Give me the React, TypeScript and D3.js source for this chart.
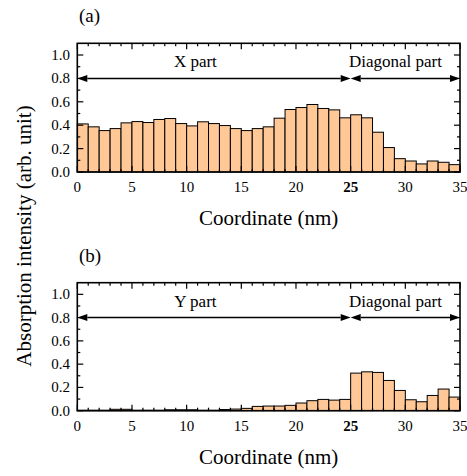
import React from "react";
import * as d3 from "d3";

const coordinates = d3.range(0, 35);
const topValues = [0.411,0.386,0.354,0.371,0.42,0.431,0.423,0.449,0.457,0.414,0.394,0.429,0.414,0.397,0.371,0.354,0.371,0.386,0.46,0.534,0.551,0.577,0.543,0.531,0.463,0.489,0.463,0.34,0.209,0.114,0.094,0.069,0.094,0.083,0.063];
const bottomValues = [0.004,0.004,0.004,0.012,0.012,0.004,0.004,0.004,0.008,0.008,0.008,0.004,0.004,0.01,0.014,0.02,0.037,0.04,0.04,0.046,0.066,0.086,0.097,0.091,0.097,0.323,0.334,0.329,0.26,0.174,0.094,0.077,0.131,0.186,0.117];
const xTickLabels = [0, 5, 10, 15, 20, 25, 30, 35];
const yTickLabels = [0, 0.2, 0.4, 0.6, 0.8, 1.0];
const regionStarts = [0, 25];
const regionEnds = [25, 35];

const FONT = "Tinos, 'Liberation Serif', 'DejaVu Serif', 'Noto Serif', 'Times New Roman', Times, serif";
const FILL = "#FFC896";

const xScale = d3.scaleLinear().domain([0, 35]).range([77.3, 460]);

type PanelProps = {
  values: number[];
  top: number;
  bottom: number;
  label: string;
  partLabel: string;
};

function Panel({ values, top, bottom, label, partLabel }: PanelProps) {
  const y = d3.scaleLinear().domain([0, 1.1]).range([bottom, top]);
  const [x0, x1] = xScale.range();
  const minorX = d3.range(0, 36, 1);
  const minorY = d3.range(0, 11, 1).map((v) => v / 10);
  const arrowY = y(0.8);
  const ah = 10;
  const aw = 3.5;
  const arrowHead = (tipX: number, dir: number) =>
    `M${tipX},${arrowY} L${tipX - dir * ah},${arrowY - aw} L${tipX - dir * ah},${arrowY + aw} Z`;
  const ts = { fontFamily: FONT };
  return (
    <g>
      <text x={79} y={top - 21} fontSize={19} style={ts}>{label}</text>
      {values.map((v, i) => (
        <rect
          key={i}
          x={xScale(coordinates[i])}
          y={y(v)}
          width={xScale(coordinates[i] + 1) - xScale(coordinates[i])}
          height={y(0) - y(v)}
          fill={FILL}
          stroke="#000"
          strokeWidth={1}
        />
      ))}
      {minorX.map((t) => {
        const major = t % 5 === 0;
        const len = major ? 6 : 3;
        return (
          <g key={"mx" + t}>
            <line x1={xScale(t)} x2={xScale(t)} y1={bottom} y2={bottom - len} stroke="#000" strokeWidth={1.2} />
            <line x1={xScale(t)} x2={xScale(t)} y1={top} y2={top + len} stroke="#000" strokeWidth={1.2} />
          </g>
        );
      })}
      {minorY.map((t, i) => {
        const major = i % 2 === 0;
        const len = major ? 6 : 3;
        return (
          <g key={"my" + i}>
            <line x1={x0} x2={x0 + len} y1={y(t)} y2={y(t)} stroke="#000" strokeWidth={1.2} />
            <line x1={x1} x2={x1 - len} y1={y(t)} y2={y(t)} stroke="#000" strokeWidth={1.2} />
          </g>
        );
      })}
      <rect x={x0} y={top} width={x1 - x0} height={bottom - top} fill="none" stroke="#000" strokeWidth={1.6} />
      {xTickLabels.map((t) => (
        <text
          key={"xl" + t}
          x={xScale(t)}
          y={bottom + 20}
          textAnchor="middle"
          fontSize={15}
          style={ts}
          fontWeight={t === 25 ? "bold" : "normal"}
        >
          {t}
        </text>
      ))}
      {yTickLabels.map((t) => (
        <text key={"yl" + t} x={70} y={y(t) + 5} textAnchor="end" fontSize={15} style={ts}>
          {t.toFixed(1)}
        </text>
      ))}
      {regionStarts.map((s, i) => (
        <g key={"ar" + i}>
          <line x1={xScale(s) + ah} x2={xScale(regionEnds[i]) - ah} y1={arrowY} y2={arrowY} stroke="#000" strokeWidth={1.5} />
          <path d={arrowHead(xScale(s), -1)} fill="#000" />
          <path d={arrowHead(xScale(regionEnds[i]), 1)} fill="#000" />
        </g>
      ))}
      <text x={xScale(10.8)} y={y(0.8) - 11} textAnchor="middle" fontSize={17} style={ts}>{partLabel}</text>
      <text x={xScale(29.1)} y={y(0.8) - 11} textAnchor="middle" fontSize={17} style={ts}>Diagonal part</text>
      <text x={(x0 + x1) / 2} y={bottom + 53} textAnchor="middle" fontSize={21} style={ts}>Coordinate (nm)</text>
    </g>
  );
}

export default function App() {
  return (
    <svg width={467} height={476} style={{ position: "absolute", left: 0, top: 0, background: "#fff" }}>
      <Panel values={topValues} top={43.3} bottom={172} label="(a)" partLabel="X part" />
      <Panel values={bottomValues} top={282.7} bottom={410.7} label="(b)" partLabel="Y part" />
      <text
        transform="translate(31,236) rotate(-90)"
        textAnchor="middle"
        fontSize={21}
        style={{ fontFamily: FONT }}
      >
        Absorption intensity (arb. unit)
      </text>
    </svg>
  );
}
